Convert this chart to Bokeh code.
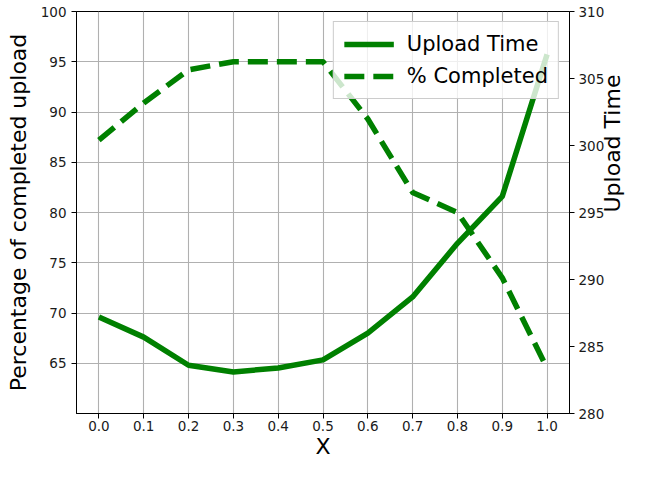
import math
from bokeh.plotting import figure
from bokeh.models import LinearAxis, Range1d, FixedTicker, Legend, LegendItem
from bokeh.embed import file_html
from bokeh.resources import INLINE

# ---- data ----
x_vals = [0.0, 0.1, 0.2, 0.3, 0.4, 0.5, 0.6, 0.7, 0.8, 0.9, 1.0]
pct_completed = [87.2, 90.9, 94.2, 95.0, 95.0, 95.0, 89.3, 82.0, 80.0, 73.5, 64.5]
upload_time = [287.2, 285.7, 283.6, 283.1, 283.4, 284.0, 286.0, 288.7, 292.7, 296.2, 306.8]

x_ticks = [0.0, 0.1, 0.2, 0.3, 0.4, 0.5, 0.6, 0.7, 0.8, 0.9, 1.0]
x_tick_labels = ["0.0", "0.1", "0.2", "0.3", "0.4", "0.5", "0.6", "0.7", "0.8", "0.9", "1.0"]
left_ticks = [65, 70, 75, 80, 85, 90, 95, 100]
right_ticks = [280, 285, 290, 295, 300, 305, 310]

x_label = "X"
left_label = "Percentage of completed upload"
right_label = "Upload Time"

FONT = "DejaVu Sans"
GREEN = "#008000"

y_right = Range1d(280, 310)
p = figure(width=640, height=461, output_backend="svg", toolbar_location=None,
           x_range=Range1d(-0.05, 1.05), y_range=Range1d(60, 100),
           min_border_left=76, min_border_right=40, min_border_top=11,
           min_border_bottom=30)
p.extra_y_ranges = {"right": y_right}
p.add_layout(LinearAxis(y_range_name="right"), "right")

p.xaxis.axis_label = x_label
p.yaxis[0].axis_label = left_label

p.xaxis.ticker = FixedTicker(ticks=x_ticks)
p.xaxis.major_label_overrides = {t: l for t, l in zip(x_ticks, x_tick_labels)}
p.yaxis[0].ticker = FixedTicker(ticks=left_ticks)
p.yaxis[1].ticker = FixedTicker(ticks=right_ticks)

for ax in list(p.xaxis) + list(p.yaxis):
    ax.axis_line_color = "black"
    ax.axis_line_width = 1
    ax.major_tick_line_color = "black"
    ax.major_tick_out = 5
    ax.major_tick_in = 0
    ax.minor_tick_line_color = None
    ax.major_label_text_font = FONT
    ax.major_label_text_font_size = "13.5px"
    ax.major_label_text_color = "#1a1a1a"
    ax.major_label_standoff = 5
    ax.axis_label_text_font = FONT
    ax.axis_label_text_font_style = "normal"
    ax.axis_label_text_font_size = "22px"
    ax.axis_label_text_color = "black"
    ax.axis_label_standoff = 2

p.xaxis.major_label_standoff = 2
p.xaxis.axis_label_standoff = 0
p.yaxis[0].axis_label_standoff = 7
p.yaxis[1].major_label_standoff = 4

# right-hand axis title (reads bottom-to-top, as in the reference),
# drawn as the single centred label of an outer, line-less axis
mid_right = (y_right.start + y_right.end) / 2
title_axis = LinearAxis(y_range_name="right", ticker=FixedTicker(ticks=[mid_right]),
                        major_label_overrides={mid_right: right_label},
                        major_label_orientation=math.pi / 2,
                        axis_line_color=None, major_tick_line_color=None,
                        major_tick_out=0, major_tick_in=0,
                        minor_tick_line_color=None, major_label_standoff=5,
                        major_label_text_font=FONT, major_label_text_font_size="22px",
                        major_label_text_color="black")
p.add_layout(title_axis, "right")

p.xgrid.ticker = FixedTicker(ticks=x_ticks)
p.ygrid.ticker = FixedTicker(ticks=left_ticks)
for g in (p.xgrid[0], p.ygrid[0]):
    g.grid_line_color = "#b0b0b0"
    g.grid_line_width = 1.1

p.outline_line_color = "black"
p.outline_line_width = 1
p.outline_line_alpha = 1
p.background_fill_color = "white"
p.border_fill_color = "white"

r_dash = p.line(x_vals, pct_completed, line_color=GREEN, line_width=5.5,
                line_dash="20 9", line_join="round")
r_solid = p.line(x_vals, upload_time, y_range_name="right", line_color=GREEN,
                 line_width=5.5, line_join="round")

legend = Legend(items=[LegendItem(label="Upload Time", renderers=[r_solid]),
                       LegendItem(label="% Completed", renderers=[r_dash])],
                location="top_right")
legend.label_text_font = FONT
legend.label_text_font_size = "21px"
legend.label_text_color = "black"
legend.glyph_width = 50
legend.glyph_height = 22
legend.label_height = 22
legend.label_standoff = 13
legend.spacing = 8
legend.padding = 10
legend.margin = 10
legend.border_line_color = "#cccccc"
legend.border_line_alpha = 1
legend.background_fill_alpha = 0.8
p.add_layout(legend)

open("out.html", "w").write(file_html(p, INLINE))
